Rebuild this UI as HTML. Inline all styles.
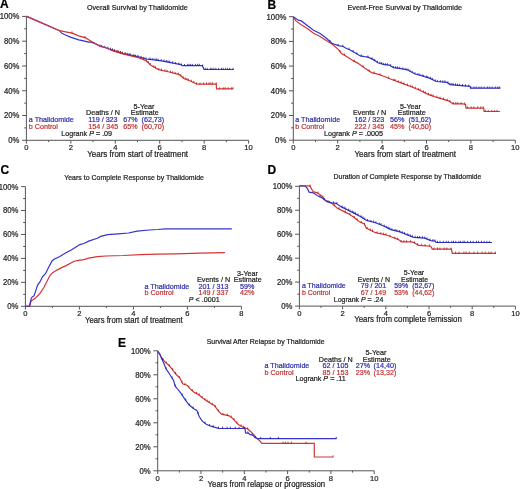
<!DOCTYPE html><html><head><meta charset="utf-8"><style>html,body{margin:0;padding:0;background:#fff;}svg{display:block;filter:blur(0.35px)}text{font-family:"Liberation Sans",sans-serif;stroke-width:0.2px;paint-order:stroke;}</style></head><body>
<svg width="520" height="489" viewBox="0 0 520 489">
<g><text x="0" y="8.4" font-size="12" font-weight="bold" fill="#000" stroke="#000">A</text><text transform="translate(86.90,9.80) scale(1,1.1)" x="0" y="0" font-size="7.2" fill="#1c1c1c" stroke="#1c1c1c">Overall Survival by Thalidomide</text><path d="M26.4,16.4V140.3H248.60M22.10,140.30H26.4M24.20,127.91H26.4M22.10,115.52H26.4M24.20,103.13H26.4M22.10,90.74H26.4M24.20,78.35H26.4M22.10,65.96H26.4M24.20,53.57H26.4M22.10,41.18H26.4M24.20,28.79H26.4M22.10,16.40H26.4M26.40,140.3v3.3M48.62,140.3v1.8M70.84,140.3v3.3M93.06,140.3v1.8M115.28,140.3v3.3M137.50,140.3v1.8M159.72,140.3v3.3M181.94,140.3v1.8M204.16,140.3v3.3M226.38,140.3v1.8M248.60,140.3v3.3" stroke="#555" stroke-width="1" fill="none"/><text transform="translate(19.40,143.20) scale(1,1.1)" x="0" y="0" font-size="7.75" fill="#1c1c1c" stroke="#1c1c1c" text-anchor="end">0%</text><text transform="translate(19.40,118.42) scale(1,1.1)" x="0" y="0" font-size="7.75" fill="#1c1c1c" stroke="#1c1c1c" text-anchor="end">20%</text><text transform="translate(19.40,93.64) scale(1,1.1)" x="0" y="0" font-size="7.75" fill="#1c1c1c" stroke="#1c1c1c" text-anchor="end">40%</text><text transform="translate(19.40,68.86) scale(1,1.1)" x="0" y="0" font-size="7.75" fill="#1c1c1c" stroke="#1c1c1c" text-anchor="end">60%</text><text transform="translate(19.40,44.08) scale(1,1.1)" x="0" y="0" font-size="7.75" fill="#1c1c1c" stroke="#1c1c1c" text-anchor="end">80%</text><text transform="translate(19.40,19.30) scale(1,1.1)" x="0" y="0" font-size="7.75" fill="#1c1c1c" stroke="#1c1c1c" text-anchor="end">100%</text><text x="26.40" y="150.10" font-size="7.6" fill="#1c1c1c" stroke="#1c1c1c" text-anchor="middle">0</text><text x="70.84" y="150.10" font-size="7.6" fill="#1c1c1c" stroke="#1c1c1c" text-anchor="middle">2</text><text x="115.28" y="150.10" font-size="7.6" fill="#1c1c1c" stroke="#1c1c1c" text-anchor="middle">4</text><text x="159.72" y="150.10" font-size="7.6" fill="#1c1c1c" stroke="#1c1c1c" text-anchor="middle">6</text><text x="204.16" y="150.10" font-size="7.6" fill="#1c1c1c" stroke="#1c1c1c" text-anchor="middle">8</text><text x="248.60" y="150.10" font-size="7.6" fill="#1c1c1c" stroke="#1c1c1c" text-anchor="middle">10</text><text transform="translate(87.20,156.80) scale(1,1.1)" x="0" y="0" font-size="8.0" fill="#1c1c1c" stroke="#1c1c1c">Years from start of treatment</text><text transform="translate(133.60,108.50) scale(1,1.1)" x="0" y="0" font-size="7.2" fill="#1c1c1c" stroke="#1c1c1c">5-Year</text><text transform="translate(86.00,115.40) scale(1,1.1)" x="0" y="0" font-size="7.2" fill="#1c1c1c" stroke="#1c1c1c">Deaths / N</text><text transform="translate(130.80,115.40) scale(1,1.1)" x="0" y="0" font-size="7.2" fill="#1c1c1c" stroke="#1c1c1c">Estimate</text><text transform="translate(28.80,122.30) scale(1,1.1)" x="0" y="0" font-size="7.2" fill="#2e2ea8" stroke="#2e2ea8">a Thalidomide</text><text transform="translate(88.20,122.30) scale(1,1.1)" x="0" y="0" font-size="7.2" fill="#2e2ea8" stroke="#2e2ea8">119 / 323</text><text transform="translate(123.30,122.30) scale(1,1.1)" x="0" y="0" font-size="7.2" fill="#2e2ea8" stroke="#2e2ea8">67%</text><text transform="translate(141.50,122.30) scale(1,1.1)" x="0" y="0" font-size="7.2" fill="#2e2ea8" stroke="#2e2ea8">(62,73)</text><text transform="translate(28.80,128.80) scale(1,1.1)" x="0" y="0" font-size="7.2" fill="#c03434" stroke="#c03434">b Control</text><text transform="translate(88.20,128.80) scale(1,1.1)" x="0" y="0" font-size="7.2" fill="#c03434" stroke="#c03434">154 / 345</text><text transform="translate(123.30,128.80) scale(1,1.1)" x="0" y="0" font-size="7.2" fill="#c03434" stroke="#c03434">65%</text><text transform="translate(141.50,128.80) scale(1,1.1)" x="0" y="0" font-size="7.2" fill="#c03434" stroke="#c03434">(60,70)</text><text transform="translate(61.20,136.20) scale(1,1.1)" x="0" y="0" font-size="7.2" fill="#1c1c1c" stroke="#1c1c1c">Logrank <tspan font-style="italic">P</tspan> = .09</text><path d="M26.4,16.4 27,16.4 59.6,30.7 61.5,33.1 65.4,35 71.2,37.4 78.8,39.8 84.6,41.2 88.5,42.2 90.4,41.9 96.2,44.1 100,46.2 106.8,48.0 109.2,49.0 123,53.6 138.5,56.9 146.2,59 161.5,60.8 169.2,62.3 180.8,64.6 182.3,65.7 202.3,65.5 204,69.5 233.8,69.5" stroke="#3434c8" stroke-width="1.2" fill="none"/><path d="M100.0,46.5v-2.0M101.7,46.9v-2.0M104.7,47.8v-2.0M107.8,48.7v-2.0M110.5,49.7v-2.0M112.5,50.4v-2.0M114.6,51.1v-2.0M117.8,52.2v-2.0M120.4,53.0v-2.0M122.5,53.7v-2.0M125.1,54.4v-2.0M127.2,54.8v-2.0M129.1,55.2v-2.0M130.6,55.5v-2.0M133.8,56.2v-2.0M135.6,56.6v-2.0M138.0,57.1v-2.0M141.1,57.9v-2.0M143.8,58.7v-2.0M146.0,59.3v-2.0M149.2,59.7v-2.0M150.8,59.8v-2.0M152.8,60.1v-2.0M155.0,60.3v-2.0M156.6,60.5v-2.0M158.2,60.7v-2.0M161.2,61.1v-2.0M164.0,61.6v-2.0M166.3,62.0v-2.0M168.0,62.4v-2.0M169.7,62.7v-2.0M172.6,63.3v-2.0M175.6,63.9v-2.0M178.9,64.5v-2.0M181.4,65.4v-2.0M184.6,66.0v-2.0M187.7,65.9v-2.0M189.1,65.9v-2.0M190.7,65.9v-2.0M192.4,65.9v-2.0M195.4,65.9v-2.0M197.6,65.8v-2.0M199.3,65.8v-2.0M202.6,66.5v-2.0M205.3,69.8v-2.0M207.2,69.8v-2.0M210.3,69.8v-2.0M211.9,69.8v-2.0M213.8,69.8v-2.0M215.9,69.8v-2.0M218.7,69.8v-2.0M221.5,69.8v-2.0M223.2,69.8v-2.0M225.6,69.8v-2.0M227.7,69.8v-2.0M229.8,69.8v-2.0M233.0,69.8v-2.0" stroke="#1a1a9a" stroke-width="0.8" fill="none"/><path d="M26.4,16.4 59.6,30.7 64.4,31.6 72.1,33.1 78.8,35.9 85.6,37.9 90.4,40.8 96.2,44.1 100,46.3 106.8,48.2 112.3,50.8 123,53.8 138.5,57.7 146.2,60.8 150.8,65.2 158.5,69.6 169.2,72 179.2,74.6 183.8,78.5 191.5,81.5 196.9,84.2 216.2,84.0 216.5,88.9 233,88.9" stroke="#d63434" stroke-width="1.2" fill="none"/><path d="M72.0,33.4v-2.0M85.0,38.0v-2.0M112.0,51.0v-2.0M114.4,51.7v-2.0M116.6,52.3v-2.0M118.5,52.8v-2.0M120.3,53.3v-2.0M122.2,53.9v-2.0M125.1,54.6v-2.0M127.2,55.1v-2.0M129.7,55.8v-2.0M132.9,56.6v-2.0M134.8,57.1v-2.0M137.5,57.7v-2.0M140.3,58.7v-2.0M142.1,59.4v-2.0M143.8,60.1v-2.0M146.3,61.2v-2.0M148.2,63.0v-2.0M150.2,64.9v-2.0M153.8,67.2v-2.0M155.6,68.2v-2.0M158.8,70.0v-2.0M161.4,70.5v-2.0M164.9,71.3v-2.0M167.1,71.8v-2.0M170.5,72.6v-2.0M172.7,73.2v-2.0M175.2,73.9v-2.0M178.2,74.6v-2.0M180.8,76.2v-2.0M183.1,78.2v-2.0M185.2,79.4v-2.0M186.9,80.0v-2.0M188.6,80.7v-2.0M191.3,81.7v-2.0M193.8,82.9v-2.0M196.5,84.3v-2.0M200.0,84.5v-2.0M203.6,84.4v-2.0M206.5,84.4v-2.0M209.0,84.4v-2.0M210.8,84.4v-2.0M212.6,84.3v-2.0M216.2,84.3v-2.0M219.6,89.2v-2.0M223.2,89.2v-2.0M225.2,89.2v-2.0M228.1,89.2v-2.0M231.3,89.2v-2.0M233.0,89.2v-2.0" stroke="#b01818" stroke-width="0.8" fill="none"/></g>
<g><text x="267.4" y="8.6" font-size="12" font-weight="bold" fill="#000" stroke="#000">B</text><text transform="translate(347.50,9.80) scale(1,1.1)" x="0" y="0" font-size="7.25" fill="#1c1c1c" stroke="#1c1c1c">Event-Free Survival by Thalidomide</text><path d="M293.3,16.7V140.2H515.30M289.00,140.20H293.3M291.10,127.85H293.3M289.00,115.50H293.3M291.10,103.15H293.3M289.00,90.80H293.3M291.10,78.45H293.3M289.00,66.10H293.3M291.10,53.75H293.3M289.00,41.40H293.3M291.10,29.05H293.3M289.00,16.70H293.3M293.30,140.2v3.3M315.50,140.2v1.8M337.70,140.2v3.3M359.90,140.2v1.8M382.10,140.2v3.3M404.30,140.2v1.8M426.50,140.2v3.3M448.70,140.2v1.8M470.90,140.2v3.3M493.10,140.2v1.8M515.30,140.2v3.3" stroke="#555" stroke-width="1" fill="none"/><text transform="translate(286.30,143.10) scale(1,1.1)" x="0" y="0" font-size="7.75" fill="#1c1c1c" stroke="#1c1c1c" text-anchor="end">0%</text><text transform="translate(286.30,118.40) scale(1,1.1)" x="0" y="0" font-size="7.75" fill="#1c1c1c" stroke="#1c1c1c" text-anchor="end">20%</text><text transform="translate(286.30,93.70) scale(1,1.1)" x="0" y="0" font-size="7.75" fill="#1c1c1c" stroke="#1c1c1c" text-anchor="end">40%</text><text transform="translate(286.30,69.00) scale(1,1.1)" x="0" y="0" font-size="7.75" fill="#1c1c1c" stroke="#1c1c1c" text-anchor="end">60%</text><text transform="translate(286.30,44.30) scale(1,1.1)" x="0" y="0" font-size="7.75" fill="#1c1c1c" stroke="#1c1c1c" text-anchor="end">80%</text><text transform="translate(286.30,19.60) scale(1,1.1)" x="0" y="0" font-size="7.75" fill="#1c1c1c" stroke="#1c1c1c" text-anchor="end">100%</text><text x="293.30" y="150.00" font-size="7.6" fill="#1c1c1c" stroke="#1c1c1c" text-anchor="middle">0</text><text x="337.70" y="150.00" font-size="7.6" fill="#1c1c1c" stroke="#1c1c1c" text-anchor="middle">2</text><text x="382.10" y="150.00" font-size="7.6" fill="#1c1c1c" stroke="#1c1c1c" text-anchor="middle">4</text><text x="426.50" y="150.00" font-size="7.6" fill="#1c1c1c" stroke="#1c1c1c" text-anchor="middle">6</text><text x="470.90" y="150.00" font-size="7.6" fill="#1c1c1c" stroke="#1c1c1c" text-anchor="middle">8</text><text x="515.30" y="150.00" font-size="7.6" fill="#1c1c1c" stroke="#1c1c1c" text-anchor="middle">10</text><text transform="translate(354.50,156.80) scale(1,1.1)" x="0" y="0" font-size="8.03" fill="#1c1c1c" stroke="#1c1c1c">Years from start of treatment</text><text transform="translate(400.00,108.50) scale(1,1.1)" x="0" y="0" font-size="7.2" fill="#1c1c1c" stroke="#1c1c1c">5-Year</text><text transform="translate(353.00,115.40) scale(1,1.1)" x="0" y="0" font-size="7.2" fill="#1c1c1c" stroke="#1c1c1c">Events / N</text><text transform="translate(397.70,115.40) scale(1,1.1)" x="0" y="0" font-size="7.2" fill="#1c1c1c" stroke="#1c1c1c">Estimate</text><text transform="translate(295.20,122.30) scale(1,1.1)" x="0" y="0" font-size="7.2" fill="#2e2ea8" stroke="#2e2ea8">a Thalidomide</text><text transform="translate(354.40,122.30) scale(1,1.1)" x="0" y="0" font-size="7.2" fill="#2e2ea8" stroke="#2e2ea8">162 / 323</text><text transform="translate(390.00,122.30) scale(1,1.1)" x="0" y="0" font-size="7.2" fill="#2e2ea8" stroke="#2e2ea8">56%</text><text transform="translate(408.50,122.30) scale(1,1.1)" x="0" y="0" font-size="7.2" fill="#2e2ea8" stroke="#2e2ea8">(51,62)</text><text transform="translate(295.20,128.80) scale(1,1.1)" x="0" y="0" font-size="7.2" fill="#c03434" stroke="#c03434">b Control</text><text transform="translate(354.40,128.80) scale(1,1.1)" x="0" y="0" font-size="7.2" fill="#c03434" stroke="#c03434">222 / 345</text><text transform="translate(390.00,128.80) scale(1,1.1)" x="0" y="0" font-size="7.2" fill="#c03434" stroke="#c03434">45%</text><text transform="translate(408.50,128.80) scale(1,1.1)" x="0" y="0" font-size="7.2" fill="#c03434" stroke="#c03434">(40,50)</text><text transform="translate(324.00,135.60) scale(1,1.1)" x="0" y="0" font-size="7.2" fill="#1c1c1c" stroke="#1c1c1c">Logrank <tspan font-style="italic">P</tspan> = .0005</text><path d="M293.3,16.8 295.8,20.9 301.2,24.8 307.4,28.6 313.5,33.2 319.7,36.3 325.8,40.2 332,44 338.2,49.4 341.2,53.2 347.4,57.1 353.5,60.9 357.7,63.1 365.4,68.5 371.5,72.6 377.7,74.2 383.8,76.2 393,80 402.3,83.4 410,86.2 419.2,90 428.5,94.6 437.7,97.7 448.5,100.8 453,103.8 463,103.8 465.5,104.4 466,108.1 483.7,108.1 484.2,111.5 500,111.5" stroke="#d63434" stroke-width="1.2" fill="none"/><path d="M340.0,52.0v-2.0M344.4,55.5v-2.0M354.2,61.6v-2.0M363.1,67.2v-2.0M369.2,71.4v-2.0M373.9,73.5v-2.0M380.1,75.3v-2.0M388.7,78.5v-2.0M393.9,80.6v-2.0M395.0,81.0v-2.0M398.3,82.3v-2.0M401.0,83.2v-2.0M403.8,84.3v-2.0M407.4,85.6v-2.0M410.8,86.8v-2.0M412.7,87.6v-2.0M415.4,88.7v-2.0M418.4,90.0v-2.0M420.2,90.8v-2.0M423.4,92.4v-2.0M425.3,93.3v-2.0M428.5,94.9v-2.0M431.1,95.8v-2.0M433.1,96.5v-2.0M436.9,97.7v-2.0M440.0,98.7v-2.0M443.4,99.6v-2.0M447.3,100.8v-2.0M449.9,102.0v-2.0M453.3,104.1v-2.0M455.8,104.1v-2.0M457.8,104.1v-2.0M461.1,104.1v-2.0M464.6,104.5v-2.0M467.6,108.4v-2.0M471.2,108.4v-2.0M473.9,108.4v-2.0M477.7,108.4v-2.0M480.7,108.4v-2.0M483.2,108.4v-2.0M485.4,111.8v-2.0M488.2,111.8v-2.0M491.9,111.8v-2.0M494.7,111.8v-2.0M497.0,111.8v-2.0" stroke="#b01818" stroke-width="0.8" fill="none"/><path d="M293.3,16.8 298.2,20.2 301.2,20.9 307.4,25.5 313.5,30.2 319.7,33.2 325.8,37.8 332,43.2 338.2,45.6 343.1,46.5 346.4,48.5 349.6,49.7 354.5,52.6 360.3,55.9 364.4,56.7 368,57.2 372.9,59.4 377.8,62.7 384.4,64.7 389.3,65.1 393.4,67.6 399.1,68.4 407.3,69.8 414.6,73.8 422.3,76.0 430,78.4 436.2,81.5 446.9,82.3 450,84.6 460.8,85.6 470,86.4 470.6,88.2 500.4,88.2" stroke="#3434c8" stroke-width="1.2" fill="none"/><path d="M330.0,41.8v-2.0M338.1,45.9v-2.0M342.8,46.8v-2.0M348.9,49.7v-2.0M353.1,52.1v-2.0M356.9,54.3v-2.0M361.2,56.4v-2.0M367.9,57.5v-2.0M372.0,59.3v-2.0M374.7,60.9v-2.0M377.5,62.8v-2.0M380.0,63.7v-2.0M381.6,64.2v-2.0M383.3,64.7v-2.0M385.3,65.1v-2.0M387.4,65.2v-2.0M390.6,66.2v-2.0M393.4,67.9v-2.0M395.7,68.2v-2.0M397.5,68.5v-2.0M399.7,68.8v-2.0M402.9,69.3v-2.0M405.9,69.9v-2.0M408.0,70.5v-2.0M410.0,71.6v-2.0M412.2,72.8v-2.0M414.9,74.2v-2.0M418.0,75.1v-2.0M419.8,75.6v-2.0M422.3,76.3v-2.0M423.7,76.8v-2.0M426.3,77.5v-2.0M427.8,78.0v-2.0M430.4,78.9v-2.0M432.3,79.9v-2.0M435.2,81.3v-2.0M437.4,81.9v-2.0M440.3,82.1v-2.0M442.8,82.3v-2.0M444.9,82.4v-2.0M447.9,83.3v-2.0M450.1,84.9v-2.0M451.8,85.1v-2.0M453.2,85.2v-2.0M455.5,85.4v-2.0M457.5,85.6v-2.0M459.6,85.8v-2.0M462.5,86.1v-2.0M465.5,86.3v-2.0M468.7,86.6v-2.0M470.9,88.5v-2.0M473.9,88.5v-2.0M476.2,88.5v-2.0M478.9,88.5v-2.0M481.3,88.5v-2.0M484.2,88.5v-2.0M487.4,88.5v-2.0M489.4,88.5v-2.0M492.1,88.5v-2.0M495.3,88.5v-2.0M497.8,88.5v-2.0M499.6,88.5v-2.0" stroke="#1a1a9a" stroke-width="0.8" fill="none"/></g>
<g><text x="0.4" y="173.6" font-size="12" font-weight="bold" fill="#000" stroke="#000">C</text><text transform="translate(64.20,179.70) scale(1,1.1)" x="0" y="0" font-size="7.0" fill="#1c1c1c" stroke="#1c1c1c">Years to Complete Response by Thalidomide</text><path d="M25.4,186.6V306.3H241.40M21.10,306.30H25.4M23.20,294.33H25.4M21.10,282.36H25.4M23.20,270.39H25.4M21.10,258.42H25.4M23.20,246.45H25.4M21.10,234.48H25.4M23.20,222.51H25.4M21.10,210.54H25.4M23.20,198.57H25.4M21.10,186.60H25.4M25.40,306.3v3.3M52.40,306.3v1.8M79.40,306.3v3.3M106.40,306.3v1.8M133.40,306.3v3.3M160.40,306.3v1.8M187.40,306.3v3.3M214.40,306.3v1.8M241.40,306.3v3.3" stroke="#555" stroke-width="1" fill="none"/><text transform="translate(18.40,309.20) scale(1,1.1)" x="0" y="0" font-size="7.75" fill="#1c1c1c" stroke="#1c1c1c" text-anchor="end">0%</text><text transform="translate(18.40,285.26) scale(1,1.1)" x="0" y="0" font-size="7.75" fill="#1c1c1c" stroke="#1c1c1c" text-anchor="end">20%</text><text transform="translate(18.40,261.32) scale(1,1.1)" x="0" y="0" font-size="7.75" fill="#1c1c1c" stroke="#1c1c1c" text-anchor="end">40%</text><text transform="translate(18.40,237.38) scale(1,1.1)" x="0" y="0" font-size="7.75" fill="#1c1c1c" stroke="#1c1c1c" text-anchor="end">60%</text><text transform="translate(18.40,213.44) scale(1,1.1)" x="0" y="0" font-size="7.75" fill="#1c1c1c" stroke="#1c1c1c" text-anchor="end">80%</text><text transform="translate(18.40,189.50) scale(1,1.1)" x="0" y="0" font-size="7.75" fill="#1c1c1c" stroke="#1c1c1c" text-anchor="end">100%</text><text x="25.40" y="316.10" font-size="7.6" fill="#1c1c1c" stroke="#1c1c1c" text-anchor="middle">0</text><text x="79.40" y="316.10" font-size="7.6" fill="#1c1c1c" stroke="#1c1c1c" text-anchor="middle">2</text><text x="133.40" y="316.10" font-size="7.6" fill="#1c1c1c" stroke="#1c1c1c" text-anchor="middle">4</text><text x="187.40" y="316.10" font-size="7.6" fill="#1c1c1c" stroke="#1c1c1c" text-anchor="middle">6</text><text x="241.40" y="316.10" font-size="7.6" fill="#1c1c1c" stroke="#1c1c1c" text-anchor="middle">8</text><text transform="translate(85.10,323.40) scale(1,1.1)" x="0" y="0" font-size="7.72" fill="#1c1c1c" stroke="#1c1c1c">Years from start of treatment</text><text transform="translate(237.00,275.80) scale(1,1.1)" x="0" y="0" font-size="7.2" fill="#1c1c1c" stroke="#1c1c1c">3-Year</text><text transform="translate(197.00,282.00) scale(1,1.1)" x="0" y="0" font-size="7.2" fill="#1c1c1c" stroke="#1c1c1c">Events / N</text><text transform="translate(233.80,282.00) scale(1,1.1)" x="0" y="0" font-size="7.2" fill="#1c1c1c" stroke="#1c1c1c">Estimate</text><text transform="translate(144.40,288.70) scale(1,1.1)" x="0" y="0" font-size="7.2" fill="#2e2ea8" stroke="#2e2ea8">a Thalidomide</text><text transform="translate(198.60,288.50) scale(1,1.1)" x="0" y="0" font-size="7.2" fill="#2e2ea8" stroke="#2e2ea8">201 / 313</text><text transform="translate(240.00,288.50) scale(1,1.1)" x="0" y="0" font-size="7.2" fill="#2e2ea8" stroke="#2e2ea8">59%</text><text transform="translate(144.40,295.20) scale(1,1.1)" x="0" y="0" font-size="7.2" fill="#c03434" stroke="#c03434">b Control</text><text transform="translate(198.60,295.20) scale(1,1.1)" x="0" y="0" font-size="7.2" fill="#c03434" stroke="#c03434">149 / 337</text><text transform="translate(240.00,295.20) scale(1,1.1)" x="0" y="0" font-size="7.2" fill="#c03434" stroke="#c03434">42%</text><text transform="translate(188.70,302.00) scale(1,1.1)" x="0" y="0" font-size="7.2" fill="#1c1c1c" stroke="#1c1c1c"><tspan font-style="italic">P</tspan> &lt; .0001</text><path d="M25.4,306.4 29.7,306.2 31.2,300.9 32.6,300.1 35.5,298 39.8,293.7 44,287.3 46.9,281.5 49.8,275.8 52.6,272.7 56.9,270.1 61.2,267.9 67,265.1 74.1,261.2 78.4,260.3 84,259.6 88.7,258.1 97.3,256.7 106,256 123.3,255.5 140.6,254.6 157.9,254.1 175.6,253.9 199.8,253.1 224.9,252.7" stroke="#d63434" stroke-width="1.2" fill="none"/><path d="M25.4,306.4 29.4,306.2 31.2,298.7 31.9,297.3 34,295.8 35.5,291.6 37.6,285.1 39.8,282.2 42.6,276.5 45.5,273.7 48.3,267.9 51.9,261.2 54.1,259.3 59.8,256.5 65.5,252.9 71.3,250 75.6,247.2 79.8,244.6 84,243.5 88.7,241.1 97.3,238.2 100.8,236.4 107.7,234.7 118.1,233.8 128.5,233 137.1,231.2 149.2,230 157.9,229.5 165.2,228.8 231.8,228.8" stroke="#3434c8" stroke-width="1.2" fill="none"/></g>
<g><text x="267.4" y="173.6" font-size="12" font-weight="bold" fill="#000" stroke="#000">D</text><text transform="translate(333.60,178.50) scale(1,1.1)" x="0" y="0" font-size="6.95" fill="#1c1c1c" stroke="#1c1c1c">Duration of Complete Response by Thalidomide</text><path d="M299.4,186.3V306.1H515.40M295.10,306.10H299.4M297.20,294.12H299.4M295.10,282.14H299.4M297.20,270.16H299.4M295.10,258.18H299.4M297.20,246.20H299.4M295.10,234.22H299.4M297.20,222.24H299.4M295.10,210.26H299.4M297.20,198.28H299.4M295.10,186.30H299.4M299.40,306.1v3.3M321.00,306.1v1.8M342.60,306.1v3.3M364.20,306.1v1.8M385.80,306.1v3.3M407.40,306.1v1.8M429.00,306.1v3.3M450.60,306.1v1.8M472.20,306.1v3.3M493.80,306.1v1.8M515.40,306.1v3.3" stroke="#555" stroke-width="1" fill="none"/><text transform="translate(292.40,309.00) scale(1,1.1)" x="0" y="0" font-size="7.75" fill="#1c1c1c" stroke="#1c1c1c" text-anchor="end">0%</text><text transform="translate(292.40,285.04) scale(1,1.1)" x="0" y="0" font-size="7.75" fill="#1c1c1c" stroke="#1c1c1c" text-anchor="end">20%</text><text transform="translate(292.40,261.08) scale(1,1.1)" x="0" y="0" font-size="7.75" fill="#1c1c1c" stroke="#1c1c1c" text-anchor="end">40%</text><text transform="translate(292.40,237.12) scale(1,1.1)" x="0" y="0" font-size="7.75" fill="#1c1c1c" stroke="#1c1c1c" text-anchor="end">60%</text><text transform="translate(292.40,213.16) scale(1,1.1)" x="0" y="0" font-size="7.75" fill="#1c1c1c" stroke="#1c1c1c" text-anchor="end">80%</text><text transform="translate(292.40,189.20) scale(1,1.1)" x="0" y="0" font-size="7.75" fill="#1c1c1c" stroke="#1c1c1c" text-anchor="end">100%</text><text x="299.40" y="315.90" font-size="7.6" fill="#1c1c1c" stroke="#1c1c1c" text-anchor="middle">0</text><text x="342.60" y="315.90" font-size="7.6" fill="#1c1c1c" stroke="#1c1c1c" text-anchor="middle">2</text><text x="385.80" y="315.90" font-size="7.6" fill="#1c1c1c" stroke="#1c1c1c" text-anchor="middle">4</text><text x="429.00" y="315.90" font-size="7.6" fill="#1c1c1c" stroke="#1c1c1c" text-anchor="middle">6</text><text x="472.20" y="315.90" font-size="7.6" fill="#1c1c1c" stroke="#1c1c1c" text-anchor="middle">8</text><text x="515.40" y="315.90" font-size="7.6" fill="#1c1c1c" stroke="#1c1c1c" text-anchor="middle">10</text><text transform="translate(354.20,322.30) scale(1,1.1)" x="0" y="0" font-size="7.87" fill="#1c1c1c" stroke="#1c1c1c">Years from complete remission</text><text transform="translate(403.80,275.00) scale(1,1.1)" x="0" y="0" font-size="7.0" fill="#1c1c1c" stroke="#1c1c1c">5-Year</text><text transform="translate(357.80,281.60) scale(1,1.1)" x="0" y="0" font-size="7.0" fill="#1c1c1c" stroke="#1c1c1c">Events / N</text><text transform="translate(401.00,281.60) scale(1,1.1)" x="0" y="0" font-size="7.0" fill="#1c1c1c" stroke="#1c1c1c">Estimate</text><text transform="translate(301.90,288.00) scale(1,1.1)" x="0" y="0" font-size="7.0" fill="#2e2ea8" stroke="#2e2ea8">a Thalidomide</text><text transform="translate(360.80,288.00) scale(1,1.1)" x="0" y="0" font-size="7.0" fill="#2e2ea8" stroke="#2e2ea8">79 / 201</text><text transform="translate(394.20,288.00) scale(1,1.1)" x="0" y="0" font-size="7.0" fill="#2e2ea8" stroke="#2e2ea8">59%</text><text transform="translate(412.20,288.00) scale(1,1.1)" x="0" y="0" font-size="7.0" fill="#2e2ea8" stroke="#2e2ea8">(52,67)</text><text transform="translate(301.90,294.50) scale(1,1.1)" x="0" y="0" font-size="7.0" fill="#c03434" stroke="#c03434">b Control</text><text transform="translate(360.80,294.50) scale(1,1.1)" x="0" y="0" font-size="7.0" fill="#c03434" stroke="#c03434">67 / 149</text><text transform="translate(394.20,294.50) scale(1,1.1)" x="0" y="0" font-size="7.0" fill="#c03434" stroke="#c03434">53%</text><text transform="translate(412.20,294.50) scale(1,1.1)" x="0" y="0" font-size="7.0" fill="#c03434" stroke="#c03434">(44,62)</text><text transform="translate(333.80,302.00) scale(1,1.1)" x="0" y="0" font-size="7.0" fill="#1c1c1c" stroke="#1c1c1c">Logrank <tspan font-style="italic">P</tspan> = .24</text><path d="M299.4,185.8 309.8,185.8 311.8,189.4 313.2,191.7 317.2,192.8 321.2,195.5 325.3,200.2 328,201.9 332,203.5 337.4,208.2 342.8,210.9 348.1,213.6 353.5,217 359,221.5 364.3,224 366.2,228.1 375.4,232.7 386.2,235 392.3,237.3 398.5,239.6 401.5,241.9 412.3,241.9 415.4,243.5 418.5,245.3 430.8,246.2 432.3,249.2 451.5,249.2 452.2,253.3 496,253.3" stroke="#d63434" stroke-width="1.2" fill="none"/><path d="M310.0,186.5v-2.0M317.9,193.6v-2.0M322.9,197.7v-2.0M329.4,202.8v-2.0M334.7,206.1v-2.0M338.9,209.2v-2.0M345.2,212.4v-2.0M350.0,215.1v-2.0M354.3,218.0v-2.0M357.0,220.2v-2.0M361.3,222.9v-2.0M364.5,224.8v-2.0M367.1,228.9v-2.0M370.2,230.4v-2.0M372.5,231.5v-2.0M377.2,233.4v-2.0M380.8,234.1v-2.0M383.4,234.7v-2.0M385.9,235.2v-2.0M390.1,236.8v-2.0M394.9,238.6v-2.0M397.7,239.6v-2.0M401.2,242.0v-2.0M404.0,242.2v-2.0M406.6,242.2v-2.0M410.4,242.2v-2.0M414.5,243.3v-2.0M417.7,245.1v-2.0M421.3,245.8v-2.0M425.0,246.1v-2.0M429.4,246.4v-2.0M433.9,249.5v-2.0M437.5,249.5v-2.0M439.9,249.5v-2.0M444.1,249.5v-2.0M446.8,249.5v-2.0M451.1,249.5v-2.0M455.6,253.6v-2.0M459.1,253.6v-2.0M463.9,253.6v-2.0M466.1,253.6v-2.0M469.3,253.6v-2.0M474.0,253.6v-2.0M477.6,253.6v-2.0M482.0,253.6v-2.0M485.2,253.6v-2.0M488.8,253.6v-2.0M491.1,253.6v-2.0M495.3,253.6v-2.0" stroke="#b01818" stroke-width="0.8" fill="none"/><path d="M299.4,185.8 305.1,186 307.1,188 309.1,192.1 313.2,192.8 317.2,195.5 322.6,198.2 326.6,201.5 332,202.9 336,203.3 341.4,206.9 348.1,210.3 354.9,213.6 360.3,216.4 366.5,220.4 375.4,222.7 383.1,225.8 390.8,229.6 400,231.9 409.2,235.8 413.8,237.3 424.6,238.1 430.8,240.6 435.5,241.2 436,242.5 492,242.5" stroke="#3434c8" stroke-width="1.2" fill="none"/><path d="M320.0,197.2v-2.0M324.3,199.9v-2.0M327.9,202.1v-2.0M333.5,203.4v-2.0M336.8,204.1v-2.0M342.0,207.5v-2.0M344.2,208.6v-2.0M345.8,209.5v-2.0M348.4,210.7v-2.0M349.9,211.5v-2.0M352.3,212.6v-2.0M353.9,213.4v-2.0M355.6,214.3v-2.0M358.0,215.5v-2.0M361.1,217.2v-2.0M362.9,218.4v-2.0M364.8,219.6v-2.0M367.6,221.0v-2.0M371.0,221.9v-2.0M373.6,222.5v-2.0M375.9,223.2v-2.0M379.4,224.6v-2.0M381.0,225.2v-2.0M384.2,226.6v-2.0M386.3,227.7v-2.0M388.1,228.5v-2.0M389.8,229.4v-2.0M391.9,230.2v-2.0M395.0,231.0v-2.0M396.9,231.4v-2.0M399.6,232.1v-2.0M402.3,233.2v-2.0M404.6,234.1v-2.0M407.2,235.2v-2.0M408.8,235.9v-2.0M410.4,236.5v-2.0M412.3,237.1v-2.0M415.2,237.7v-2.0M417.6,237.9v-2.0M419.7,238.0v-2.0M422.4,238.2v-2.0M424.8,238.5v-2.0M426.9,239.3v-2.0M429.9,240.6v-2.0M432.8,241.2v-2.0M434.8,241.4v-2.0M437.5,242.8v-2.0M440.0,242.8v-2.0M443.3,242.8v-2.0M446.2,242.8v-2.0M448.3,242.8v-2.0M451.8,242.8v-2.0M453.5,242.8v-2.0M455.8,242.8v-2.0M458.9,242.8v-2.0M460.7,242.8v-2.0M463.1,242.8v-2.0M464.7,242.8v-2.0M467.6,242.8v-2.0M470.6,242.8v-2.0M473.2,242.8v-2.0M476.5,242.8v-2.0M478.6,242.8v-2.0M481.5,242.8v-2.0M484.2,242.8v-2.0M486.9,242.8v-2.0M489.3,242.8v-2.0" stroke="#1a1a9a" stroke-width="0.8" fill="none"/></g>
<g><text x="117.9" y="347.2" font-size="12" font-weight="bold" fill="#000" stroke="#000">E</text><text transform="translate(206.70,343.50) scale(1,1.1)" x="0" y="0" font-size="7.0" fill="#1c1c1c" stroke="#1c1c1c">Survival After Relapse by Thalidomide</text><path d="M157.7,350.8V470.8H374.20M153.40,470.80H157.7M155.50,458.80H157.7M153.40,446.80H157.7M155.50,434.80H157.7M153.40,422.80H157.7M155.50,410.80H157.7M153.40,398.80H157.7M155.50,386.80H157.7M153.40,374.80H157.7M155.50,362.80H157.7M153.40,350.80H157.7M157.70,470.8v3.3M179.35,470.8v1.8M201.00,470.8v3.3M222.65,470.8v1.8M244.30,470.8v3.3M265.95,470.8v1.8M287.60,470.8v3.3M309.25,470.8v1.8M330.90,470.8v3.3M352.55,470.8v1.8M374.20,470.8v3.3" stroke="#555" stroke-width="1" fill="none"/><text transform="translate(150.70,473.70) scale(1,1.1)" x="0" y="0" font-size="7.75" fill="#1c1c1c" stroke="#1c1c1c" text-anchor="end">0%</text><text transform="translate(150.70,449.70) scale(1,1.1)" x="0" y="0" font-size="7.75" fill="#1c1c1c" stroke="#1c1c1c" text-anchor="end">20%</text><text transform="translate(150.70,425.70) scale(1,1.1)" x="0" y="0" font-size="7.75" fill="#1c1c1c" stroke="#1c1c1c" text-anchor="end">40%</text><text transform="translate(150.70,401.70) scale(1,1.1)" x="0" y="0" font-size="7.75" fill="#1c1c1c" stroke="#1c1c1c" text-anchor="end">60%</text><text transform="translate(150.70,377.70) scale(1,1.1)" x="0" y="0" font-size="7.75" fill="#1c1c1c" stroke="#1c1c1c" text-anchor="end">80%</text><text transform="translate(150.70,353.70) scale(1,1.1)" x="0" y="0" font-size="7.75" fill="#1c1c1c" stroke="#1c1c1c" text-anchor="end">100%</text><text x="157.70" y="480.60" font-size="7.6" fill="#1c1c1c" stroke="#1c1c1c" text-anchor="middle">0</text><text x="201.00" y="480.60" font-size="7.6" fill="#1c1c1c" stroke="#1c1c1c" text-anchor="middle">2</text><text x="244.30" y="480.60" font-size="7.6" fill="#1c1c1c" stroke="#1c1c1c" text-anchor="middle">4</text><text x="287.60" y="480.60" font-size="7.6" fill="#1c1c1c" stroke="#1c1c1c" text-anchor="middle">6</text><text x="330.90" y="480.60" font-size="7.6" fill="#1c1c1c" stroke="#1c1c1c" text-anchor="middle">8</text><text x="374.20" y="480.60" font-size="7.6" fill="#1c1c1c" stroke="#1c1c1c" text-anchor="middle">10</text><text transform="translate(207.60,486.90) scale(1,1.1)" x="0" y="0" font-size="7.82" fill="#1c1c1c" stroke="#1c1c1c">Years from relapse or progression</text><text transform="translate(365.60,355.00) scale(1,1.1)" x="0" y="0" font-size="7.2" fill="#1c1c1c" stroke="#1c1c1c">5-Year</text><text transform="translate(318.80,361.60) scale(1,1.1)" x="0" y="0" font-size="7.2" fill="#1c1c1c" stroke="#1c1c1c">Deaths / N</text><text transform="translate(362.70,361.60) scale(1,1.1)" x="0" y="0" font-size="7.2" fill="#1c1c1c" stroke="#1c1c1c">Estimate</text><text transform="translate(264.40,368.30) scale(1,1.1)" x="0" y="0" font-size="7.2" fill="#2e2ea8" stroke="#2e2ea8">a Thalidomide</text><text transform="translate(322.60,368.30) scale(1,1.1)" x="0" y="0" font-size="7.2" fill="#2e2ea8" stroke="#2e2ea8">62 / 105</text><text transform="translate(355.80,368.30) scale(1,1.1)" x="0" y="0" font-size="7.2" fill="#2e2ea8" stroke="#2e2ea8">27%</text><text transform="translate(373.60,368.30) scale(1,1.1)" x="0" y="0" font-size="7.2" fill="#2e2ea8" stroke="#2e2ea8">(14,40)</text><text transform="translate(264.40,374.70) scale(1,1.1)" x="0" y="0" font-size="7.2" fill="#c03434" stroke="#c03434">b Control</text><text transform="translate(322.60,374.70) scale(1,1.1)" x="0" y="0" font-size="7.2" fill="#c03434" stroke="#c03434">85 / 153</text><text transform="translate(355.80,374.70) scale(1,1.1)" x="0" y="0" font-size="7.2" fill="#c03434" stroke="#c03434">23%</text><text transform="translate(373.60,374.70) scale(1,1.1)" x="0" y="0" font-size="7.2" fill="#c03434" stroke="#c03434">(13,32)</text><text transform="translate(295.40,381.00) scale(1,1.1)" x="0" y="0" font-size="7.2" fill="#1c1c1c" stroke="#1c1c1c">Logrank <tspan font-style="italic">P</tspan> = .11</text><path d="M157.5,351.3 159.6,353.8 161.9,358.4 165.4,362.4 168.8,365.3 172.3,369.3 175.8,374 179.8,378 182.7,383.8 187.3,385.5 189.6,388.4 194.2,392.4 198.8,394.7 204.6,399.6 210.8,403.5 214.6,405.8 218.5,411.2 221.5,414.2 229.2,415.8 232.3,418.1 238.3,424.5 243,427.2 247.5,428.8 250.8,431.7 254.2,435.2 256.5,438.1 260,441 261.7,443.4 314.3,443.4 314.3,457 333.2,457" stroke="#d63434" stroke-width="1.2" fill="none"/><path d="M163.0,360.0v-2.0M166.2,363.4v-2.0M169.3,366.2v-2.0M172.6,370.1v-2.0M175.5,374.0v-2.0M179.6,378.1v-2.0M181.9,382.6v-2.0M185.0,385.0v-2.0M188.9,387.8v-2.0M192.3,391.1v-2.0M196.6,393.9v-2.0M199.2,395.4v-2.0M202.1,397.8v-2.0M204.8,400.0v-2.0M207.0,401.4v-2.0M209.2,402.8v-2.0M212.4,404.8v-2.0M215.1,406.8v-2.0M218.5,411.5v-2.0M222.9,414.8v-2.0M227.3,415.7v-2.0M231.2,417.6v-2.0M234.0,420.2v-2.0M236.9,423.3v-2.0M241.1,426.4v-2.0M243.6,427.7v-2.0M247.7,429.3v-2.0M283.0,443.7v-2.0M285.4,443.7v-2.0M288.0,443.7v-2.0M291.4,443.7v-2.0M306.0,443.7v-2.0M333.0,457.3v-2.0" stroke="#b01818" stroke-width="0.8" fill="none"/><path d="M157.5,351.3 157.9,351.5 159.6,353.8 161.3,357.8 163.7,363 166,368.8 168.8,372.8 171.2,376.8 173.5,380.3 175.2,386.1 177.5,389 180.4,392.5 184.6,398.8 189.2,405 193.8,408.8 196.9,410.4 199.2,416.5 202.3,421.2 206.2,424.2 210.8,426.2 218.5,428.3 245,428.5 245.5,432.9 248.5,433.2 250.2,434.6 253.1,435.2 254.8,437.5 257.7,438.6 336.5,438.6" stroke="#3434c8" stroke-width="1.2" fill="none"/><path d="M162.0,359.6v-2.0M166.1,369.3v-2.0M172.0,378.3v-2.0M175.2,386.4v-2.0M182.2,395.5v-2.0M185.7,400.5v-2.0M189.4,405.5v-2.0M193.2,408.6v-2.0M198.1,413.9v-2.0M205.0,423.6v-2.0M209.6,426.0v-2.0M213.2,427.1v-2.0M218.5,428.6v-2.0M222.6,428.6v-2.0M227.1,428.7v-2.0M230.4,428.7v-2.0M235.3,428.7v-2.0M239.0,428.8v-2.0M244.3,428.8v-2.0M247.8,433.4v-2.0M252.2,435.3v-2.0M255.3,438.0v-2.0M260.7,438.9v-2.0M270.3,438.9v-2.0M278.4,438.9v-2.0M336.2,438.9v-2.0" stroke="#1a1a9a" stroke-width="0.8" fill="none"/></g>
</svg></body></html>
